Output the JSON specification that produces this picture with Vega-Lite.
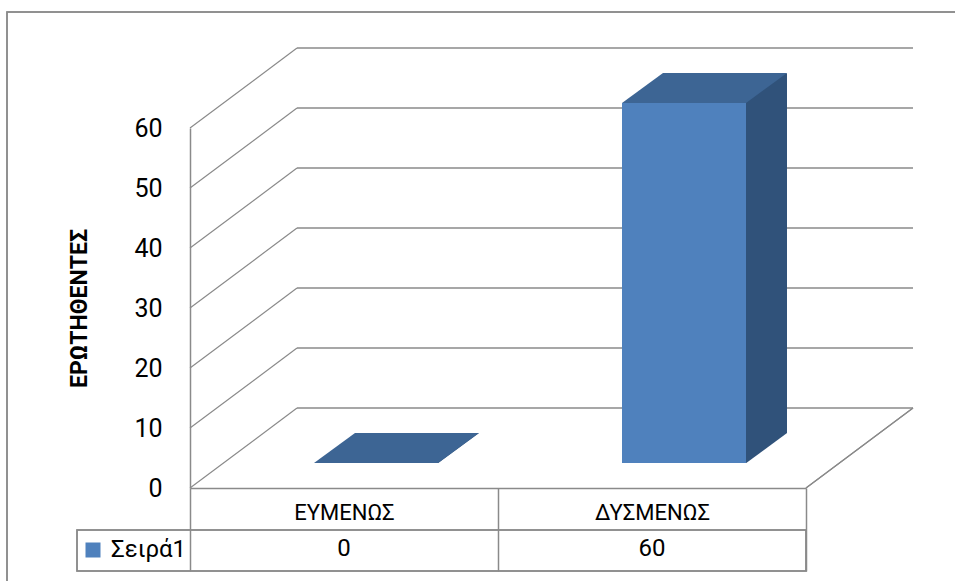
{
  "$schema": "https://vega.github.io/schema/vega-lite/v6.json",
  "width": 616,
  "height": 360,
  "autosize": {"type": "none"},
  "padding": {"left": 190, "top": 128, "right": 149, "bottom": 93},
  "background": "white",
  "datasets": {
    "main": [
      {"category": "ΕΥΜΕΝΩΣ", "value": 0, "series": "Σειρά1"},
      {"category": "ΔΥΣΜΕΝΩΣ", "value": 60, "series": "Σειρά1"}
    ],
    "ticks": [{"t": 0}, {"t": 10}, {"t": 20}, {"t": 30}, {"t": 40}, {"t": 50}, {"t": 60}]
  },
  "layer": [
    {
      "data": {"name": "ticks"},
      "mark": {"type": "rule", "color": "#8a8a8a", "strokeWidth": 1.5, "xOffset": 107, "x2Offset": 107, "yOffset": -80, "y2Offset": -80},
      "encoding": {
        "x": {"datum": "ΕΥΜΕΝΩΣ", "bandPosition": 0},
        "x2": {"datum": "ΔΥΣΜΕΝΩΣ", "bandPosition": 1},
        "y": {"field": "t", "type": "quantitative", "title": "ΕΡΩΤΗΘΕΝΤΕΣ"},
        "y2": {"field": "t"}
      }
    },
    {
      "data": {"name": "ticks"},
      "mark": {"type": "rule", "color": "#8a8a8a", "strokeWidth": 1.2, "x2Offset": 107, "y2Offset": -80},
      "encoding": {
        "x": {"datum": "ΕΥΜΕΝΩΣ", "bandPosition": 0},
        "x2": {"datum": "ΕΥΜΕΝΩΣ", "bandPosition": 0},
        "y": {"field": "t", "type": "quantitative", "title": "ΕΡΩΤΗΘΕΝΤΕΣ"},
        "y2": {"field": "t"}
      }
    },
    {
      "data": {"name": "main"},
      "mark": {"type": "rule", "color": "#8a8a8a", "strokeWidth": 1.2, "x2Offset": 107, "y2Offset": -80},
      "encoding": {
        "x": {"datum": "ΔΥΣΜΕΝΩΣ", "bandPosition": 1},
        "x2": {"datum": "ΔΥΣΜΕΝΩΣ", "bandPosition": 1},
        "y": {"datum": 0},
        "y2": {"datum": 0}
      }
    },
    {
      "data": {"name": "main"},
      "mark": {"type": "rect", "fill": null, "fillOpacity": 0, "stroke": "#8a8a8a", "strokeWidth": 1.5, "xOffset": -183, "x2Offset": 170, "yOffset": -116, "y2Offset": 120},
      "encoding": {
        "x": {"datum": "ΕΥΜΕΝΩΣ", "bandPosition": 0},
        "x2": {"datum": "ΔΥΣΜΕΝΩΣ", "bandPosition": 1},
        "y": {"datum": 60},
        "y2": {"datum": 0}
      }
    },
    {
      "data": {"name": "main"},
      "mark": {"type": "rect", "fill": null, "fillOpacity": 0, "stroke": "#8a8a8a", "strokeWidth": 1.5, "xOffset": -113, "yOffset": 42, "y2Offset": 83},
      "encoding": {
        "x": {"datum": "ΕΥΜΕΝΩΣ", "bandPosition": 0},
        "x2": {"datum": "ΔΥΣΜΕΝΩΣ", "bandPosition": 1},
        "y": {"datum": 0},
        "y2": {"datum": 0}
      }
    },
    {
      "data": {"name": "main"},
      "mark": {"type": "text", "font": "Roboto", "fontSize": 24, "color": "#000000", "baseline": "middle", "align": "center", "yOffset": 61},
      "encoding": {
        "x": {"field": "category", "type": "nominal", "sort": null, "title": null},
        "y": {"datum": 0},
        "text": {"field": "value", "type": "quantitative"}
      }
    },
    {
      "data": {"name": "main"},
      "mark": {"type": "bar", "color": "#30527A", "width": {"band": 0.1331}, "xOffset": 114.5, "yOffset": -25, "y2Offset": -25},
      "encoding": {
        "x": {"field": "category", "type": "nominal", "sort": null, "title": null},
        "y": {"field": "value", "type": "quantitative", "title": "ΕΡΩΤΗΘΕΝΤΕΣ"}
      }
    },
    {
      "data": {"name": "main"},
      "mark": {"type": "point", "shape": "M -1 -0.74 L 1 -0.74 L 1 0.8 L -1 0.8 Z", "size": 1681, "filled": true, "fill": "#30527A", "opacity": 1, "strokeWidth": 0, "xOffset": 114.5, "yOffset": -39.5},
      "encoding": {
        "x": {"field": "category", "type": "nominal", "sort": null, "title": null},
        "y": {"field": "value", "type": "quantitative", "title": "ΕΡΩΤΗΘΕΝΤΕΣ"}
      }
    },
    {
      "data": {"name": "main"},
      "mark": {"type": "point", "shape": "M -1.02 0.76 L -1.02 1.05 L 1.2 1.05 L 1.2 -0.88 Z", "size": 1681, "filled": true, "fill": "white", "opacity": 1, "strokeWidth": 0, "xOffset": 114.5, "yOffset": -40},
      "encoding": {
        "x": {"field": "category", "type": "nominal", "sort": null, "title": null},
        "y": {"datum": 0}
      }
    },
    {
      "data": {"name": "main"},
      "mark": {"type": "bar", "width": {"band": 0.4026}, "xOffset": 32, "yOffset": -25, "y2Offset": -25},
      "encoding": {
        "x": {
          "field": "category", "type": "nominal", "sort": null, "title": null,
          "scale": {"domain": ["ΕΥΜΕΝΩΣ", "ΔΥΣΜΕΝΩΣ"], "paddingInner": 0, "paddingOuter": 0}
        },
        "y": {
          "field": "value", "type": "quantitative", "title": "ΕΡΩΤΗΘΕΝΤΕΣ",
          "scale": {"domain": [0, 60], "nice": false},
          "axis": {"values": [0, 10, 20, 30, 40, 50, 60]}
        },
        "color": {
          "field": "series", "type": "nominal",
          "scale": {"range": ["#4F81BD"]},
          "legend": {"orient": "none", "legendX": -109, "legendY": 410, "title": null, "symbolType": "square", "symbolSize": 225, "symbolStrokeWidth": 0, "symbolOpacity": 1, "labelFont": "Roboto", "labelFontSize": 24, "labelColor": "#000000", "labelOffset": 6, "padding": 0}
        }
      }
    },
    {
      "data": {"name": "main"},
      "mark": {"type": "point", "shape": "M -1 0.1818 L 0.503 0.1818 L 1 -0.1818 L -0.503 -0.1818 Z", "size": 27225, "filled": true, "fill": "#3D6594", "opacity": 1, "strokeWidth": 0, "xOffset": 52.5, "yOffset": -40},
      "encoding": {
        "x": {"field": "category", "type": "nominal", "sort": null, "title": null},
        "y": {"field": "value", "type": "quantitative", "title": "ΕΡΩΤΗΘΕΝΤΕΣ"}
      }
    }
  ],
  "config": {
    "view": {"stroke": null},
    "axisY": {
      "domainColor": "#8a8a8a", "domainWidth": 1.5, "ticks": false, "grid": false,
      "labelFont": "Roboto", "labelFontSize": 25, "labelColor": "#000000", "labelPadding": 28,
      "titleFont": "Roboto", "titleFontSize": 23, "titleFontWeight": "bold", "titleColor": "#000000", "titlePadding": 42
    },
    "axisX": {
      "domainColor": "#8a8a8a", "domainWidth": 1.5, "grid": false,
      "tickBand": "extent", "tickSize": 83, "tickColor": "#8a8a8a", "tickWidth": 1.5,
      "labelPadding": -69, "labelFont": "Roboto", "labelFontSize": 22, "labelColor": "#000000", "labelAngle": 0
    }
  }
}
